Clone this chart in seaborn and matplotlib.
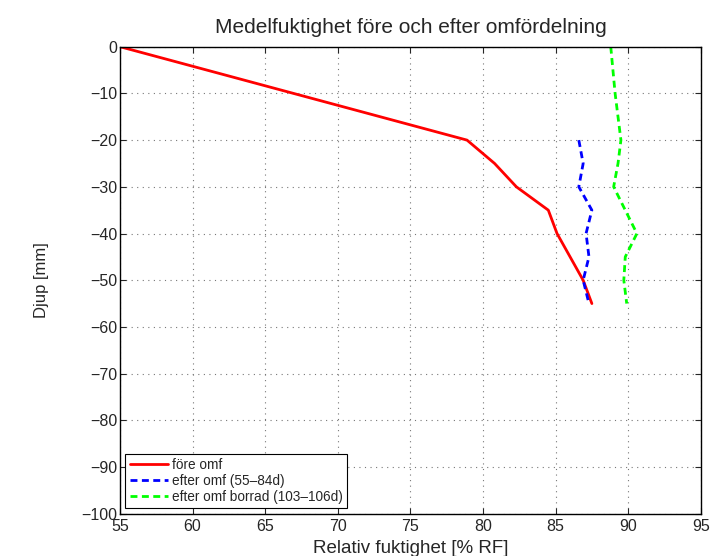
import pandas as pd
import matplotlib
matplotlib.use("Agg")
import matplotlib.pyplot as plt
import seaborn as sns

# depth [mm]
depth_fore = [0, -20, -25, -30, -35, -40, -45, -50, -55]
rf_fore = [55.0, 78.9, 80.8, 82.3, 84.5, 85.1, 86.0, 86.9, 87.5]

depth_efter = [-20, -25, -30, -35, -40, -45, -50, -55]
rf_efter = [86.6, 86.9, 86.6, 87.5, 87.1, 87.3, 86.9, 87.3]

depth_borrad = [0, -10, -20, -25, -30, -35, -40, -45, -50, -55]
rf_borrad = [88.8, 89.1, 89.5, 89.3, 89.0, 89.8, 90.6, 89.8, 89.7, 89.9]

sns.set_style("ticks")
plt.rcParams['font.family'] = ['Liberation Sans', 'DejaVu Sans']

fig = plt.figure(figsize=(7.1, 5.56), dpi=100)
ax = fig.add_axes([0.169, 0.076, 0.818, 0.840])

sns.lineplot(x=rf_fore, y=depth_fore, sort=False, estimator=None, ax=ax,
             color='#ff0000', lw=2, label='före omf')
sns.lineplot(x=rf_efter, y=depth_efter, sort=False, estimator=None, ax=ax,
             color='#0000ff', lw=2, linestyle=(0, (2.5, 1.6)), label='efter omf (55–84d)')
sns.lineplot(x=rf_borrad, y=depth_borrad, sort=False, estimator=None, ax=ax,
             color='#00ff00', lw=2, linestyle=(0, (2.5, 1.6)), label='efter omf borrad (103–106d)')

ax.set_xlim(55, 95)
ax.set_ylim(-100, 0)
ax.set_xticks(range(55, 96, 5))
ax.set_yticks(range(-100, 1, 10))
ax.grid(True, linestyle=(0, (1, 4)), color='#777777', lw=0.8)
ax.tick_params(direction='in', top=True, right=True, labelsize=11.5, length=4)
ax.tick_params(axis='x', pad=4)
ax.tick_params(axis='y', pad=2)
for s in ax.spines.values():
    s.set_linewidth(1.0)
    s.set_color('black')

ax.set_title("Medelfuktighet före och efter omfördelning", fontsize=15, pad=10)
ax.set_xlabel("Relativ fuktighet [% RF]", fontsize=13.5, labelpad=4)
ax.set_ylabel("Djup [mm]", fontsize=12, labelpad=23)

leg = ax.legend(loc='lower left', fontsize=9.8, frameon=True, fancybox=False,
                edgecolor='black', framealpha=1, borderpad=0.3, labelspacing=0.15,
                handlelength=2.8, handletextpad=0.3, borderaxespad=0.4)
leg.get_frame().set_linewidth(0.8)

fig.savefig("out.png", dpi=100)
